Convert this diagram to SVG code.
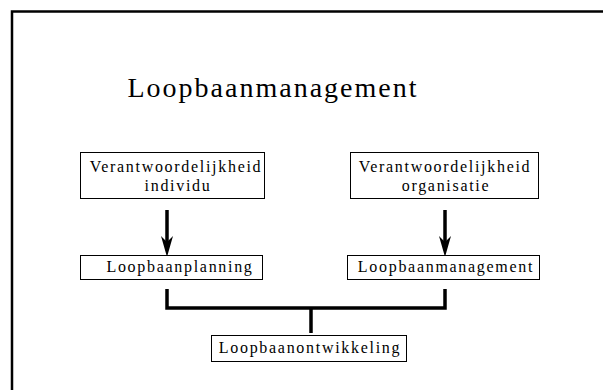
<svg xmlns="http://www.w3.org/2000/svg" width="603" height="390" viewBox="0 0 603 390">
<style>
.bg{fill:#fff}
.frame{fill:none;stroke:#000;stroke-width:2.5}
.box{fill:#fff;stroke:#000;stroke-width:1}
.t{font-family:"Liberation Serif","Times New Roman",serif;font-size:16px;letter-spacing:1.7px;fill:#000;text-anchor:middle}
.title{font-family:"Liberation Serif","Times New Roman",serif;font-size:28px;letter-spacing:2px;fill:#000;text-anchor:middle}
.conn{fill:none;stroke:#000;stroke-width:3.5}
.head{fill:#000}
</style>
<rect class="bg" x="0" y="0" width="603" height="390"/>
<rect class="frame" x="12" y="11.5" width="600" height="390"/>
<text class="title" x="273" y="97">Loopbaanmanagement</text>
<g id="connectors">
<line class="conn" x1="167" y1="210" x2="167" y2="242"/>
<path class="head" d="M167,257 L161,236 L167,242 L173,236 Z"/>
<line class="conn" x1="445" y1="210" x2="445" y2="242"/>
<path class="head" d="M445,257 L439,236 L445,242 L451,236 Z"/>
<path class="conn" d="M167,289 V308 H445 V289"/>
<line class="conn" x1="311" y1="308" x2="311" y2="333"/>
</g>
<g id="node-verantw-individu">
<rect class="box" x="80.5" y="152.5" width="184" height="46"/>
<text class="t" x="176" y="172">Verantwoordelijkheid</text>
<text class="t" x="178" y="191">individu</text>
</g>
<g id="node-verantw-organisatie">
<rect class="box" x="350.5" y="152.5" width="188" height="46"/>
<text class="t" x="445" y="172">Verantwoordelijkheid</text>
<text class="t" x="446" y="191">organisatie</text>
</g>
<g id="node-loopbaanplanning">
<rect class="box" x="80.5" y="255.5" width="182" height="24"/>
<text class="t" x="180" y="272">Loopbaanplanning</text>
</g>
<g id="node-loopbaanmanagement">
<rect class="box" x="347.5" y="255.5" width="192" height="24"/>
<text class="t" x="446" y="272">Loopbaanmanagement</text>
</g>
<g id="node-loopbaanontwikkeling">
<rect class="box" x="211.5" y="335.5" width="195" height="26"/>
<text class="t" x="310" y="353">Loopbaanontwikkeling</text>
</g>
</svg>
